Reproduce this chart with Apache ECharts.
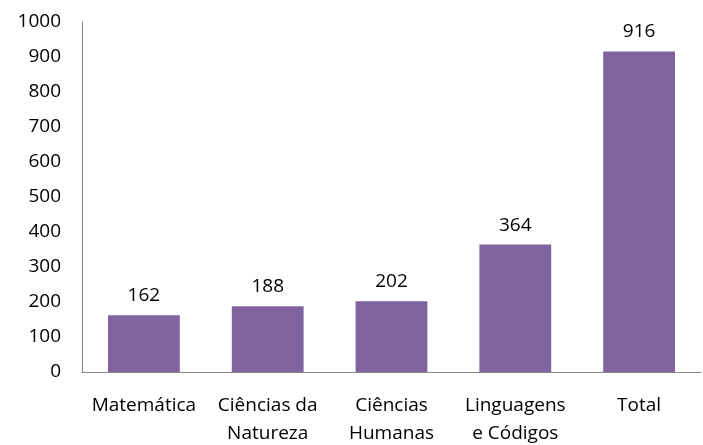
<!DOCTYPE html>
<html>
<head>
<meta charset="utf-8">
<script src="https://cdn.jsdelivr.net/npm/echarts@6/dist/echarts.min.js"></script>
<style>
html, body { margin: 0; padding: 0; background: #fff; }
#chart { width: 703px; height: 445px; }
</style>
</head>
<body>
<div id="chart"></div>
<script>
var categories = ['Matemática', 'Ciências da\nNatureza', 'Ciências\nHumanas', 'Linguagens\ne Códigos', 'Total'];
var values = [162, 188, 202, 364, 916];
var yTicks = [0, 1000, 100]; // min, max, interval

var font = '"Open Sans", "Liberation Sans", sans-serif';
var chart = echarts.init(document.getElementById('chart'));
chart.setOption({
    animation: false,
    grid: { left: 82, right: 2, top: 22, bottom: 73, containLabel: false, outerBoundsMode: 'none' },
    xAxis: {
        type: 'category',
        data: categories,
        axisLine: { lineStyle: { color: '#868686', width: 1 } },
        axisTick: { show: false },
        axisLabel: {
            color: '#000', fontSize: 19, fontFamily: font,
            margin: 20, lineHeight: 28, interval: 0
        }
    },
    yAxis: {
        type: 'value',
        min: yTicks[0], max: yTicks[1], interval: yTicks[2],
        axisLine: { show: true, lineStyle: { color: '#868686', width: 1 } },
        axisTick: { show: false },
        splitLine: { show: false },
        axisLabel: {
            color: '#000', fontSize: 19, fontFamily: font, margin: 21,
            formatter: function (v) { return String(v); }
        }
    },
    series: [{
        type: 'bar',
        data: values,
        barWidth: '58%',
        itemStyle: { color: '#8064A2' },
        label: {
            show: true, position: 'top', distance: 10,
            color: '#000', fontSize: 19, fontFamily: font
        }
    }]
});
</script>
</body>
</html>
